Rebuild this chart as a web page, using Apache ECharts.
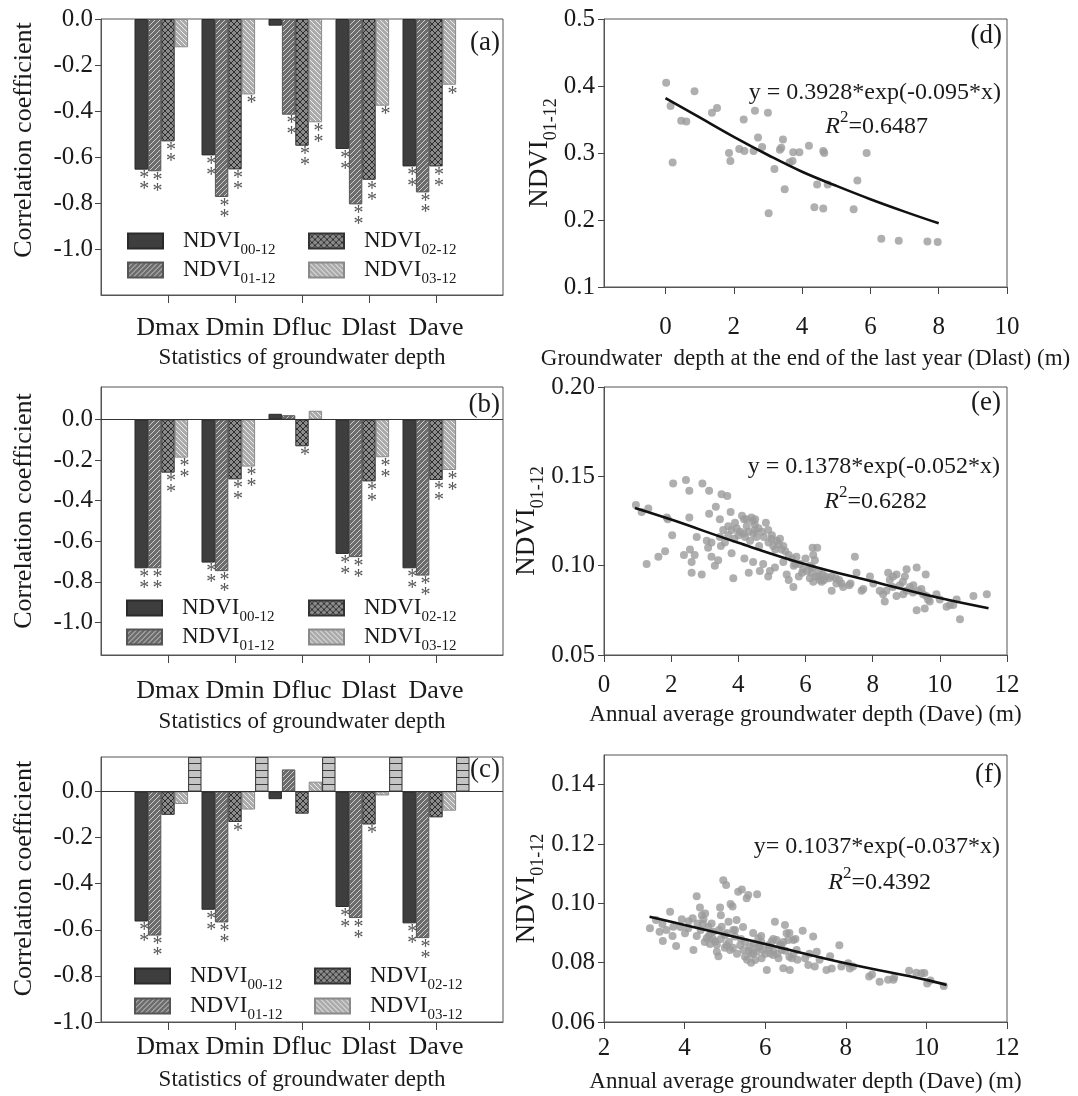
<!DOCTYPE html>
<html><head><meta charset="utf-8">
<script src="https://cdn.jsdelivr.net/npm/echarts@6/dist/echarts.min.js"></script>
<style>html,body{margin:0;padding:0;background:#fff}#c{width:1078px;height:1096px}</style>
</head><body><div id="c"></div>
<script>
// ---------- DATA ----------
const categories = ['Dmax', 'Dmin', 'Dfluc', 'Dlast', 'Dave'];
const seriesNames = ['NDVI00-12', 'NDVI01-12', 'NDVI02-12', 'NDVI03-12'];
const barTicks = [0, -0.2, -0.4, -0.6, -0.8, -1.0];

// panel (a)
const a00 = [-0.655, -0.593, -0.029, -0.565, -0.641];
const a01 = [-0.662, -0.774, -0.416, -0.806, -0.754];
const a02 = [-0.532, -0.654, -0.551, -0.699, -0.641];
const a03 = [-0.123, -0.328, -0.449, -0.377, -0.286];
const sigA00 = ['**', '**', '', '**', '**'];
const sigA01 = ['**', '**', '**', '**', '**'];
const sigA02 = ['**', '**', '**', '**', '**'];
const sigA03 = ['', '*', '**', '*', '*'];

// panel (b)
const b00 = [-0.733, -0.705, 0.028, -0.662, -0.733];
const b01 = [-0.733, -0.747, 0.021, -0.678, -0.769];
const b02 = [-0.262, -0.295, -0.132, -0.305, -0.298];
const b03 = [-0.188, -0.232, 0.043, -0.186, -0.249];
const sigB00 = ['**', '**', '', '**', '**'];
const sigB01 = ['**', '**', '', '**', '**'];
const sigB02 = ['**', '**', '*', '**', '**'];
const sigB03 = ['**', '**', '', '**', '**'];

// panel (c)
const c00 = [-0.564, -0.513, -0.033, -0.501, -0.572];
const c01 = [-0.625, -0.568, 0.096, -0.549, -0.636];
const c02 = [-0.101, -0.132, -0.096, -0.143, -0.112];
const c03 = [-0.054, -0.078, 0.043, -0.017, -0.083];
const c04 = [0.15, 0.15, 0.15, 0.15, 0.15];
const sigC00 = ['**', '**', '', '**', '**'];
const sigC01 = ['**', '**', '', '**', '**'];
const sigC02 = ['', '*', '', '*', ''];

// panel (d)
const pointsD = [[0.02,0.405],[0.15,0.370],[0.21,0.286],[0.46,0.348],[0.61,0.347],[0.85,0.392],[1.36,0.360],[1.51,0.367],
[1.86,0.300],[1.90,0.288],[2.16,0.306],[2.31,0.303],[2.29,0.350],[2.58,0.303],[2.62,0.363],[2.71,0.323],[2.83,0.309],
[3.00,0.360],[3.02,0.210],[3.19,0.276],[3.35,0.305],[3.39,0.308],[3.44,0.320],[3.49,0.246],[3.63,0.286],[3.72,0.288],
[3.74,0.301],[3.92,0.301],[4.20,0.311],[4.36,0.219],[4.44,0.253],[4.62,0.303],[4.65,0.300],[4.62,0.217],[4.75,0.253],
[5.51,0.216],[5.62,0.259],[5.89,0.300],[6.32,0.172],[6.83,0.169],[7.67,0.168],[7.97,0.167]];
const fitD = [[0,0.382],[1,0.353],[2,0.324],[3,0.297],[4,0.272],[5,0.251],[6,0.231],[7,0.2125],[8,0.195]];

// panel (e)
const pointsE = [[0.95,0.134],[2.06,0.146],[2.44,0.148],[2.54,0.142],[2.93,0.146],[3.13,0.142],[3.50,0.140],[3.67,0.139],
[1.12,0.130],[1.32,0.132],[1.87,0.127],[2.54,0.127],[2.03,0.117],[3.13,0.129],[3.33,0.133],[3.45,0.126],[3.77,0.130],
[1.27,0.101],[1.62,0.105],[1.82,0.108],[2.38,0.106],[2.56,0.109],[2.61,0.102],[2.61,0.096],[2.91,0.095],[2.76,0.116],
[3.06,0.114],[3.10,0.110],[3.20,0.113],[3.30,0.100],[3.40,0.103],[3.48,0.111],[3.45,0.116],[3.55,0.120],[3.70,0.122],
[3.80,0.120],[3.88,0.115],[3.95,0.121],[4.00,0.117],[4.11,0.128],[4.17,0.126],[4.20,0.116],[4.25,0.122],[4.35,0.114],
[4.39,0.127],[4.44,0.125],[4.49,0.120],[4.54,0.116],[4.62,0.111],[4.76,0.116],[4.82,0.124],[4.89,0.120],[4.99,0.115],
[5.04,0.111],[5.14,0.114],[5.24,0.115],[5.29,0.109],[5.34,0.111],[4.49,0.123],[3.80,0.107],[3.85,0.093],[4.18,0.104],
[4.31,0.096],[4.44,0.102],[4.64,0.097],[4.74,0.101],[4.89,0.094],[4.94,0.097],[5.09,0.099],[5.34,0.102],[5.44,0.095],
[5.50,0.092],[5.64,0.088],[5.65,0.100],[5.73,0.105],[5.83,0.101],[5.93,0.098],[6.00,0.104],[6.13,0.100],[6.18,0.096],
[6.21,0.110],[6.35,0.110],[6.23,0.106],[6.28,0.103],[6.38,0.094],[6.43,0.092],[6.51,0.095],[6.13,0.093],[6.23,0.091],
[6.48,0.091],[6.78,0.094],[6.78,0.086],[6.92,0.090],[7.07,0.090],[7.12,0.088],[7.34,0.090],[7.47,0.105],[7.52,0.096],
[7.67,0.086],[7.72,0.087],[7.92,0.094],[8.02,0.090],[8.31,0.084],[8.36,0.080],[8.41,0.086],[8.46,0.096],[8.51,0.092],
[8.61,0.094],[8.71,0.095],[8.81,0.089],[8.96,0.094],[9.01,0.098],[9.11,0.088],[9.21,0.089],[9.31,0.099],[9.36,0.086],
[9.45,0.087],[9.58,0.095],[9.60,0.083],[9.65,0.081],[9.90,0.084],[10.0,0.081],[10.2,0.077],[10.4,0.078],[10.5,0.081],
[10.6,0.070],[9.31,0.075],[9.55,0.076],[11.0,0.083],[11.4,0.084],[8.91,0.084],[9.01,0.086],[8.71,0.083],[8.21,0.086],
[4.05,0.119],[4.15,0.118],[4.30,0.119],[4.45,0.118],[4.60,0.121],[4.70,0.119],[4.90,0.113],[5.00,0.117],[5.10,0.109],
[5.20,0.112],[5.40,0.108],[5.50,0.106],[5.60,0.104],[5.70,0.101],[5.90,0.096],[6.05,0.097],[6.30,0.094],[6.40,0.097],
[6.55,0.092],[6.60,0.094],[6.70,0.093],[6.90,0.093],[7.00,0.092],[3.60,0.113],[3.70,0.117],[3.90,0.124],[4.25,0.126],
[4.50,0.126],[3.20,0.105],[2.70,0.106],[1.90,0.126],[5.80,0.094],[6.20,0.099],[7.30,0.089],[8.60,0.088],[8.90,0.091],
[9.20,0.085],[9.50,0.084],[9.70,0.080],[10.3,0.078]];
const fitE = [[0.92,0.1323],[2,0.1258],[4,0.1128],[6,0.1008],[8,0.0911],[10,0.0819],[11.45,0.0762]];

// panel (f)
const pointsF = [[3.14,0.0916],[3.38,0.0904],[3.46,0.0873],[3.29,0.0944],[3.64,0.0972],[3.72,0.0921],[3.79,0.0856],
[3.93,0.0946],[4.01,0.0899],[4.09,0.0916],[4.22,0.0843],[4.30,0.1024],[4.32,0.0932],[4.38,0.0986],[4.43,0.0960],
[4.47,0.0946],[4.51,0.0966],[4.55,0.0882],[4.59,0.0921],[4.63,0.0863],[4.67,0.0932],[4.71,0.0904],[4.76,0.0871],
[4.80,0.0837],[4.84,0.0822],[4.88,0.0986],[4.90,0.0960],[4.92,0.0921],[4.96,0.1078],[5.00,0.0893],[5.03,0.1062],
[5.04,0.0859],[5.09,0.0938],[5.13,0.0843],[5.14,0.0998],[5.19,0.0989],[5.21,0.0910],[5.25,0.0888],[5.29,0.0944],
[5.33,0.1039],[5.38,0.0859],[5.42,0.1047],[5.46,0.0843],[5.50,0.0820],[5.54,0.1017],[5.58,0.1028],[5.62,0.0854],
[5.66,0.0831],[5.71,0.0865],[5.75,0.0809],[5.79,0.0837],[5.80,0.1031],[5.83,0.0882],[5.87,0.0854],[5.91,0.0815],
[5.95,0.0843],[6.04,0.0775],[6.08,0.0859],[6.12,0.0831],[6.16,0.0871],[6.20,0.0826],[6.24,0.0938],[6.28,0.0876],
[6.33,0.0815],[6.37,0.0859],[6.41,0.0843],[6.45,0.0781],[6.49,0.0927],[6.53,0.0899],[6.57,0.0876],[6.61,0.0775],
[6.66,0.0815],[6.70,0.0876],[6.78,0.0843],[6.93,0.0908],[6.99,0.0815],[7.07,0.0792],[7.19,0.0888],[7.23,0.0787],
[7.28,0.0837],[7.52,0.0775],[7.61,0.0822],[7.84,0.0859],[7.89,0.0787],[8.06,0.0798],[8.18,0.0787],[8.58,0.0753],
[8.84,0.0736],[9.05,0.0742],[9.18,0.0742],[9.57,0.0773],[9.75,0.0766],[9.88,0.0764],[10.02,0.0730],[10.43,0.0721],
[5.10,0.087],[5.20,0.085],[5.30,0.083],[5.40,0.088],[5.50,0.087],[5.60,0.084],[5.70,0.083],[5.80,0.085],[5.90,0.087],
[6.00,0.083],[6.10,0.085],[6.20,0.084],[6.30,0.083],[6.40,0.086],[6.50,0.084],[6.60,0.082],[6.70,0.083],[6.80,0.081],
[5.55,0.081],[5.65,0.080],[4.50,0.087],[4.60,0.089],[4.70,0.088],[4.80,0.086],[4.90,0.088],[5.00,0.085],[4.30,0.089],
[4.40,0.091],[3.55,0.091],[3.90,0.092],[4.10,0.094],[4.20,0.095],[4.45,0.093],[4.65,0.090],[4.85,0.091],[5.05,0.090],
[5.25,0.091],[5.45,0.092],[5.70,0.090],[5.90,0.089],[6.20,0.088],[6.45,0.087],[6.60,0.090],[6.75,0.088],[7.10,0.083],
[7.35,0.081],[7.65,0.078],[8.10,0.078],[8.65,0.076],[9.20,0.075],[9.95,0.0765],[10.10,0.074],[3.45,0.093],[3.70,0.089]];
const fitF = [[3.13,0.0955],[4,0.0927],[6,0.0863],[8,0.0798],[10,0.0742],[10.5,0.0725]];

// ---------- STYLE ----------
const FONT = "'Liberation Serif','Times New Roman',serif";
const TXT = '#1a1a1a';
function makePattern(bg, line, kind, step) {
  const c = document.createElement('canvas');
  c.width = step; c.height = step;
  const g = c.getContext('2d');
  g.fillStyle = bg; g.fillRect(0, 0, step, step);
  g.strokeStyle = line; g.lineWidth = 1;
  g.beginPath();
  if (kind === 'slash' || kind === 'cross') {
    g.moveTo(-1, step + 1); g.lineTo(step + 1, -1);
    g.moveTo(-1, 1); g.lineTo(1, -1);
    g.moveTo(step - 1, step + 1); g.lineTo(step + 1, step - 1);
  }
  if (kind === 'back' || kind === 'cross') {
    g.moveTo(-1, -1); g.lineTo(step + 1, step + 1);
    g.moveTo(step - 1, -1); g.lineTo(step + 1, 1);
    g.moveTo(-1, step - 1); g.lineTo(1, step + 1);
  }
  if (kind === 'horiz') { g.moveTo(0, 0.5); g.lineTo(step, 0.5); }
  g.stroke();
  return { image: c, repeat: 'repeat' };
}
const barStyles = [
  { color: '#3e3e3e', borderColor: '#2a2a2a', borderWidth: 1 },
  { color: makePattern('#6c6c6c', '#cdcdcd', 'slash', 5), borderColor: '#555', borderWidth: 1 },
  { color: makePattern('#8a8a8a', '#2e2e2e', 'cross', 6), borderColor: '#333', borderWidth: 1 },
  { color: makePattern('#ababab', '#ececec', 'back', 5), borderColor: '#8a8a8a', borderWidth: 1 },
  { color: makePattern('#c4c4c4', '#3a3a3a', 'horiz', 7), borderColor: '#333', borderWidth: 1 }
];

const padCat = ['', ...categories, ''];
const pad = arr => ['-', ...arr, '-'];

const grids = [
  { left: 101, top: 19, width: 402, height: 276 },
  { left: 101, top: 387, width: 402, height: 268 },
  { left: 101, top: 757, width: 402, height: 265 },
  { left: 604, top: 19, width: 403, height: 268 },
  { left: 604, top: 387, width: 403, height: 268 },
  { left: 604, top: 755, width: 403, height: 267 }
].map(g => Object.assign({ show: true, borderColor: '#555', borderWidth: 1, containLabel: false }, g));

// subscript: small token bottom-aligned inside a tall line
const subRich = { s: { fontSize: 15, fontFamily: FONT, color: TXT, lineHeight: 15, verticalAlign: 'bottom' } };
const subRichY = { s: { fontSize: 18, fontFamily: FONT, color: TXT, lineHeight: 18, verticalAlign: 'bottom' } };

function barXAxis(gi, labelMargin, nameGap) {
  return {
    type: 'category', gridIndex: gi, data: padCat, boundaryGap: false, position: 'bottom',
    axisLine: { onZero: false, lineStyle: { color: '#555' } },
    axisTick: { show: true, length: 8, interval: (i) => i >= 1 && i <= 5, lineStyle: { color: '#444' } },
    axisLabel: { interval: 0, margin: labelMargin, fontSize: 26, fontFamily: FONT, color: TXT },
    splitLine: { show: false },
    name: 'Statistics of groundwater depth', nameLocation: 'middle', nameGap: nameGap,
    nameTextStyle: { fontSize: 23, fontFamily: FONT, color: TXT }
  };
}
function barYAxis(gi, min, max, shift) {
  return {
    type: 'value', gridIndex: gi, min: min, max: max,
    axisLine: { show: true, lineStyle: { color: '#555' } },
    axisTick: { show: true, length: 6, customValues: barTicks, lineStyle: { color: '#444' } },
    axisLabel: { customValues: barTicks, formatter: v => v.toFixed(1), fontSize: 25, fontFamily: FONT, color: TXT, margin: 8 },
    splitLine: { show: false },
    name: 'Correlation coefficient', nameLocation: 'middle', nameGap: 64,
    nameTextStyle: { fontSize: 26, fontFamily: FONT, color: TXT, padding: [0, 0, 0, shift] }
  };
}
function sigLabel(sig) {
  if (!sig) return { show: false };
  return {
    show: true, position: 'bottom', distance: 4, offset: [3, 0],
    formatter: p => (sig[p.dataIndex - 1] || '').split('').join('\n'),
    fontSize: 20, lineHeight: 11, fontFamily: FONT, color: '#555'
  };
}
function barSeries(gi, k, vals, sig, zeroLine) {
  const s = {
    type: 'bar', name: k < 4 ? seriesNames[k] : 'band', xAxisIndex: gi, yAxisIndex: gi,
    data: pad(vals), barWidth: 13.4, barGap: '0%', itemStyle: barStyles[k],
    label: sigLabel(sig), emphasis: { disabled: true }
  };
  if (zeroLine) {
    s.markLine = { silent: true, symbol: 'none', label: { show: false },
      lineStyle: { color: '#333', width: 1, type: 'solid' }, data: [{ yAxis: 0 }] };
  }
  return s;
}
const empty = ['-', '-', '-', '-', '-'];

function legends(x1, x2, y1, y2) {
  const pos = [[x1, y1], [x1, y2], [x2, y1], [x2, y2]];
  return seriesNames.map((n, i) => ({
    data: [n], left: pos[i][0], top: pos[i][1] - 23, icon: 'rect', itemWidth: 35, itemHeight: 15,
    selectedMode: false, formatter: name => 'NDVI{s|' + name.slice(4) + '}',
    textStyle: { fontSize: 23, lineHeight: 34, fontFamily: FONT, color: TXT, padding: [0, 0, 0, 15], rich: subRich }
  }));
}

function scatterXAxis(gi, min, max, ticks, name, labelMargin, nameGap) {
  return {
    type: 'value', gridIndex: gi, min: min, max: max,
    axisLine: { onZero: false, lineStyle: { color: '#555' } },
    axisTick: { show: true, length: 7, customValues: ticks, lineStyle: { color: '#444' } },
    axisLabel: { customValues: ticks, fontSize: 25, fontFamily: FONT, color: TXT, margin: labelMargin },
    splitLine: { show: false },
    name: name, nameLocation: 'middle', nameGap: nameGap,
    nameTextStyle: { fontSize: 23, fontFamily: FONT, color: TXT }
  };
}
function scatterYAxis(gi, min, max, ticks, digits) {
  return {
    type: 'value', gridIndex: gi, min: min, max: max,
    axisLine: { onZero: false, lineStyle: { color: '#555' } },
    axisTick: { show: true, length: 6, customValues: ticks, lineStyle: { color: '#444' } },
    axisLabel: { customValues: ticks, formatter: v => v.toFixed(digits), fontSize: 25, fontFamily: FONT, color: TXT, margin: 9 },
    splitLine: { show: false },
    name: 'NDVI{s|01-12}', nameLocation: 'middle', nameGap: 36,
    nameTextStyle: { fontSize: 27, lineHeight: 40, fontFamily: FONT, color: TXT, rich: subRichY }
  };
}
function scatterSeries(gi, pts) {
  return { type: 'scatter', xAxisIndex: gi, yAxisIndex: gi, data: pts, symbolSize: 8,
    itemStyle: { color: '#9b9b9b' }, emphasis: { disabled: true } };
}
function fitSeries(gi, pts) {
  return { type: 'line', xAxisIndex: gi, yAxisIndex: gi, data: pts, smooth: 0.4, showSymbol: false,
    lineStyle: { color: '#111', width: 2.6 }, emphasis: { disabled: true }, z: 5 };
}

// superscript: small token top-aligned inside a tall line
const richEq = {
  i: { fontSize: 24, lineHeight: 36, fontFamily: FONT, fontStyle: 'italic', fill: TXT, color: TXT },
  sup: { fontSize: 17, lineHeight: 17, fontFamily: FONT, verticalAlign: 'top', fill: TXT, color: TXT },
  n: { fontSize: 24, lineHeight: 36, fontFamily: FONT, fill: TXT, color: TXT }
};
function txt(x, y, text, align, size) {
  return { type: 'text', x: x, y: y, silent: true,
    style: { text: text, fontSize: size || 24, fontFamily: FONT, fill: TXT, align: align || 'right', verticalAlign: 'middle', rich: richEq } };
}

const option = {
  animation: false,
  backgroundColor: '#fff',
  grid: grids,
  xAxis: [
    barXAxis(0, 20, 51),
    barXAxis(1, 23, 55),
    barXAxis(2, 12, 46),
    scatterXAxis(3, -1.8, 10, [0, 2, 4, 6, 8, 10], 'Groundwater  depth at the end of the last year (Dlast) (m)', 28, 60),
    scatterXAxis(4, 0, 12, [0, 2, 4, 6, 8, 10, 12], 'Annual average groundwater depth (Dave) (m)', 18, 48),
    scatterXAxis(5, 2, 12, [2, 4, 6, 8, 10, 12], 'Annual average groundwater depth (Dave) (m)', 14, 48)
  ],
  yAxis: [
    barYAxis(0, -1.2, 0, 34),
    barYAxis(1, -1.16, 0.16, 20),
    barYAxis(2, -1.0, 0.15, 22),
    scatterYAxis(3, 0.1, 0.5, [0.1, 0.2, 0.3, 0.4, 0.5], 1),
    scatterYAxis(4, 0.05, 0.20, [0.05, 0.10, 0.15, 0.20], 2),
    scatterYAxis(5, 0.06, 0.15, [0.06, 0.08, 0.10, 0.12, 0.14], 2)
  ],
  legend: [].concat(
    legends(122, 303, 242, 271),
    legends(121, 303, 609, 638),
    legends(129, 309, 977, 1007)
  ),
  series: [
    barSeries(0, 0, a00, sigA00), barSeries(0, 1, a01, sigA01), barSeries(0, 2, a02, sigA02),
    barSeries(0, 3, a03, sigA03), barSeries(0, 4, empty, null),
    barSeries(1, 0, b00, sigB00, true), barSeries(1, 1, b01, sigB01), barSeries(1, 2, b02, sigB02),
    barSeries(1, 3, b03, sigB03), barSeries(1, 4, empty, null),
    barSeries(2, 0, c00, sigC00, true), barSeries(2, 1, c01, sigC01), barSeries(2, 2, c02, sigC02),
    barSeries(2, 3, c03, null), barSeries(2, 4, c04, null),
    scatterSeries(3, pointsD), fitSeries(3, fitD),
    scatterSeries(4, pointsE), fitSeries(4, fitE),
    scatterSeries(5, pointsF), fitSeries(5, fitF)
  ],
  graphic: [
    txt(500, 43, '(a)', 'right', 27), txt(500, 405, '(b)', 'right', 27), txt(500, 770, '(c)', 'right', 27),
    txt(1002, 36, '(d)', 'right', 27), txt(1001, 403, '(e)', 'right', 27), txt(1002, 775, '(f)', 'right', 27),
    txt(1001, 93, 'y = 0.3928*exp(-0.095*x)'), txt(928, 127, '{i|R}{sup|2}{n|=0.6487}'),
    txt(1000, 467, 'y = 0.1378*exp(-0.052*x)'), txt(927, 502, '{i|R}{sup|2}{n|=0.6282}'),
    txt(1000, 847, 'y= 0.1037*exp(-0.037*x)'), txt(931, 883, '{i|R}{sup|2}{n|=0.4392}')
  ]
};

const chart = echarts.init(document.getElementById('c'), null, { renderer: 'canvas', width: 1078, height: 1096 });
chart.setOption(option);
</script>
</body></html>
